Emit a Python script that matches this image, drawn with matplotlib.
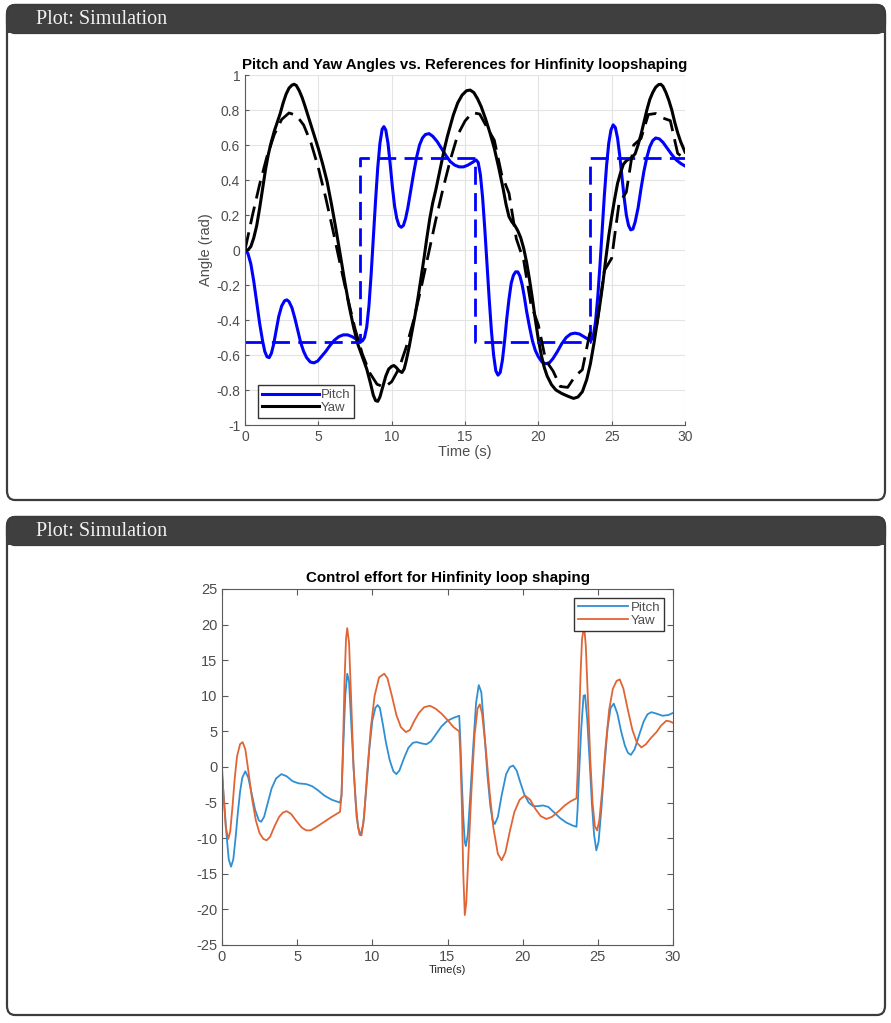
import matplotlib
matplotlib.use("Agg")
import matplotlib.pyplot as plt
from matplotlib.patches import FancyBboxPatch, Rectangle

plt.rcParams["axes.unicode_minus"] = False

# --- angle plot data ---
pitch_t = [0.0, 0.2, 0.4, 0.6, 0.8, 1.0, 1.2, 1.35, 1.5, 1.65, 1.8, 1.95, 2.1, 2.3, 2.5,
           2.7, 2.85, 3.0, 3.2, 3.4, 3.6, 3.8, 4.0, 4.2, 4.45, 4.7, 4.95, 5.2, 5.5, 5.8,
           6.1, 6.4, 6.7, 7.0, 7.3, 7.6, 7.85, 8.0, 8.15, 8.3, 8.45, 8.6, 8.75, 8.9, 9.05,
           9.2, 9.35, 9.47, 9.6, 9.75, 9.9, 10.05, 10.2, 10.35, 10.5, 10.65, 10.8, 10.95,
           11.1, 11.3, 11.5, 11.7, 11.9, 12.1, 12.3, 12.55, 12.8, 13.1, 13.4, 13.7, 14.0,
           14.3, 14.6, 14.9, 15.2, 15.5, 15.75, 15.9, 16.05, 16.2, 16.35, 16.5, 16.65, 16.8,
           16.95, 17.1, 17.25, 17.4, 17.55, 17.7, 17.85, 18.0, 18.15, 18.3, 18.45, 18.6,
           18.75, 18.9, 19.05, 19.2, 19.4, 19.6, 19.8, 20.0, 20.25, 20.5, 20.75, 21.0, 21.3,
           21.6, 21.9, 22.2, 22.5, 22.8, 23.1, 23.4, 23.6, 23.75, 23.9, 24.05, 24.2, 24.35,
           24.5, 24.65, 24.8, 24.95, 25.1, 25.25, 25.4, 25.55, 25.7, 25.85, 26.0, 26.15,
           26.3, 26.45, 26.6, 26.8, 27.0, 27.2, 27.4, 27.6, 27.8, 28.0, 28.25, 28.5, 28.8,
           29.1, 29.4, 29.7, 30.0]
pitch_v = [0.0, -0.02, -0.08, -0.18, -0.3, -0.42, -0.52, -0.58, -0.61, -0.615, -0.59,
           -0.54, -0.47, -0.38, -0.32, -0.29, -0.285, -0.295, -0.33, -0.39, -0.46, -0.53,
           -0.58, -0.615, -0.64, -0.645, -0.635, -0.61, -0.58, -0.545, -0.515, -0.495,
           -0.485, -0.485, -0.495, -0.51, -0.52, -0.52, -0.5, -0.44, -0.32, -0.14, 0.07,
           0.28, 0.47, 0.61, 0.69, 0.705, 0.685, 0.61, 0.49, 0.36, 0.25, 0.18, 0.14, 0.13,
           0.14, 0.18, 0.24, 0.34, 0.44, 0.53, 0.6, 0.64, 0.66, 0.665, 0.65, 0.62, 0.58,
           0.54, 0.505, 0.485, 0.475, 0.475, 0.485, 0.5, 0.515, 0.5, 0.43, 0.3, 0.12, -0.08,
           -0.28, -0.46, -0.6, -0.69, -0.715, -0.7, -0.63, -0.52, -0.39, -0.28, -0.19,
           -0.145, -0.125, -0.125, -0.15, -0.2, -0.27, -0.35, -0.44, -0.52, -0.575, -0.61,
           -0.64, -0.65, -0.645, -0.62, -0.58, -0.535, -0.5, -0.48, -0.475, -0.48, -0.495,
           -0.51, -0.515, -0.49, -0.41, -0.27, -0.09, 0.11, 0.31, 0.48, 0.61, 0.685, 0.715,
           0.7, 0.64, 0.54, 0.42, 0.3, 0.2, 0.14, 0.115, 0.12, 0.16, 0.24, 0.35, 0.45, 0.53,
           0.59, 0.625, 0.64, 0.635, 0.615, 0.58, 0.545, 0.515, 0.495, 0.48]

yaw_t = [0.0, 0.2, 0.4, 0.6, 0.8, 1.0, 1.2, 1.4, 1.6, 1.8, 2.0, 2.2, 2.4, 2.6, 2.8, 3.0,
         3.2, 3.35, 3.5, 3.7, 3.9, 4.1, 4.4, 4.7, 5.0, 5.3, 5.6, 5.9, 6.2, 6.5, 6.8, 7.1,
         7.4, 7.7, 8.0, 8.3, 8.55, 8.75, 8.9, 9.05, 9.2, 9.4, 9.6, 9.8, 10.0, 10.15, 10.3,
         10.5, 10.7, 10.85, 11.0, 11.2, 11.4, 11.6, 11.8, 12.0, 12.2, 12.4, 12.6, 12.8,
         13.0, 13.2, 13.4, 13.6, 13.8, 14.0, 14.2, 14.5, 14.8, 15.1, 15.35, 15.6, 15.85,
         16.1, 16.4, 16.7, 17.0, 17.3, 17.6, 17.8, 18.0, 18.2, 18.4, 18.6, 18.8, 19.0, 19.2,
         19.4, 19.6, 19.8, 20.0, 20.2, 20.4, 20.6, 20.9, 21.2, 21.6, 22.0, 22.4, 22.7, 23.0,
         23.3, 23.55, 23.8, 24.0, 24.2, 24.4, 24.6, 24.8, 25.0, 25.2, 25.4, 25.6, 25.8,
         26.0, 26.2, 26.4, 26.6, 26.8, 27.0, 27.2, 27.4, 27.6, 27.8, 28.0, 28.2, 28.35,
         28.5, 28.7, 28.9, 29.1, 29.3, 29.5, 29.7, 29.85, 30.0]
yaw_v = [0.0, 0.0, 0.02, 0.07, 0.14, 0.24, 0.35, 0.46, 0.55, 0.62, 0.68, 0.73, 0.78,
         0.84, 0.89, 0.925, 0.942, 0.947, 0.94, 0.91, 0.87, 0.82, 0.74, 0.66, 0.58, 0.49,
         0.39, 0.26, 0.12, -0.03, -0.18, -0.32, -0.44, -0.54, -0.61, -0.68, -0.76, -0.83,
         -0.86, -0.865, -0.84, -0.78, -0.72, -0.68, -0.665, -0.66, -0.67, -0.69, -0.7,
         -0.68, -0.63, -0.55, -0.46, -0.37, -0.27, -0.16, -0.05, 0.07, 0.18, 0.27, 0.34,
         0.42, 0.5, 0.58, 0.65, 0.71, 0.77, 0.84, 0.885, 0.91, 0.914, 0.9, 0.865, 0.82,
         0.75, 0.67, 0.58, 0.47, 0.35, 0.26, 0.19, 0.16, 0.14, 0.11, 0.07, 0.01, -0.07,
         -0.17, -0.28, -0.4, -0.51, -0.6, -0.67, -0.72, -0.77, -0.8, -0.82, -0.835, -0.848,
         -0.84, -0.81, -0.74, -0.65, -0.53, -0.42, -0.31, -0.19, -0.05, 0.08, 0.19, 0.29,
         0.38, 0.44, 0.49, 0.51, 0.52, 0.53, 0.55, 0.6, 0.66, 0.73, 0.8, 0.86, 0.9, 0.93,
         0.945, 0.947, 0.935, 0.9, 0.855, 0.8, 0.73, 0.67, 0.62, 0.59, 0.56]

ref_t = [0.0, 0.5, 1.0, 1.5, 2.0, 2.5, 3.0, 3.5, 4.0, 4.5, 5.0, 5.5, 6.0, 6.5, 7.0, 7.5,
         8.0, 8.5, 9.0, 9.5, 10.0, 10.5, 11.0, 11.5, 12.0, 12.5, 13.0, 13.5, 14.0, 14.5,
         15.0, 15.5, 16.0, 16.5, 17.0, 17.5, 18.0, 18.5, 19.0, 19.5, 20.0, 20.5, 21.0, 21.5,
         22.0, 22.5, 23.0, 23.5, 24.0, 24.5, 25.0, 25.5, 26.0, 26.5, 27.0, 27.5, 28.0, 28.5,
         29.0, 29.5, 30.0]
yaw_ref = [0.0, 0.195, 0.376, 0.535, 0.661, 0.746, 0.783, 0.77, 0.714, 0.612, 0.47, 0.3,
           0.111, -0.085, -0.275, -0.45, -0.594, -0.701, -0.767, -0.784, -0.753, -0.677,
           -0.553, -0.401, -0.219, -0.026, 0.169, 0.35, 0.515, 0.657, 0.737, 0.785, 0.777,
           0.7, 0.627, 0.431, 0.324, 0.064, -0.059, -0.313, -0.428, -0.63, -0.691, -0.78,
           -0.785, -0.722, -0.684, -0.478, -0.422, -0.118, -0.047, 0.266, 0.331, 0.6, 0.637,
           0.774, 0.78, 0.754, 0.739, 0.552, 0.52]

pref_t = [0.0, 7.85, 7.85, 15.7, 15.7, 23.55, 23.55, 30.0]
pref_v = [-0.524, -0.524, 0.524, 0.524, -0.524, -0.524, 0.524, 0.524]

# --- control effort data ---
up_t = [0.0, 0.15, 0.3, 0.45, 0.6, 0.75, 0.9, 1.05, 1.2, 1.35, 1.55, 1.75, 1.95, 2.2, 2.45,
        2.6, 2.8, 3.05, 3.3, 3.6, 3.95, 4.3, 4.7, 5.1, 5.6, 6.0, 6.4, 6.8, 7.3, 7.85, 7.95,
        8.05, 8.2, 8.33, 8.45, 8.6, 8.75, 8.9, 9.05, 9.22, 9.4, 9.6, 9.8, 10.0, 10.2, 10.35,
        10.5, 10.7, 10.9, 11.15, 11.4, 11.6, 11.8, 12.1, 12.4, 12.7, 12.95, 13.3, 13.6, 13.9,
        14.2, 14.6, 15.0, 15.4, 15.78, 15.85, 15.95, 16.05, 16.15, 16.22, 16.35, 16.5, 16.7,
        16.9, 17.08, 17.25, 17.45, 17.65, 17.85, 18.0, 18.15, 18.35, 18.6, 18.9, 19.15, 19.37,
        19.6, 19.85, 20.1, 20.4, 20.7, 21.0, 21.35, 21.7, 22.1, 22.5, 22.9, 23.3, 23.58, 23.65,
        23.75, 23.9, 24.05, 24.15, 24.3, 24.45, 24.6, 24.75, 24.9, 25.05, 25.25, 25.45, 25.65,
        25.85, 26.06, 26.3, 26.55, 26.8, 27.0, 27.2, 27.45, 27.75, 28.05, 28.3, 28.56, 28.9,
        29.3, 29.7, 30.0]
up_v = [-1.0, -5.0, -9.5, -13.0, -14.0, -13.0, -10.0, -6.5, -3.5, -1.5, -0.6, -1.5, -3.5,
        -6.0, -7.5, -7.7, -7.0, -5.0, -3.0, -1.6, -1.0, -1.3, -2.0, -2.3, -2.4, -2.7, -3.3,
        -4.0, -4.6, -5.0, -4.0, 2.0, 10.0, 13.1, 12.0, 6.0, 0.0, -5.0, -8.5, -9.6, -8.0, -3.0,
        2.5, 6.5, 8.3, 8.7, 8.3, 6.0, 3.5, 1.0, -0.6, -1.0, -0.5, 1.2, 2.7, 3.4, 3.5, 3.3, 3.2,
        3.6, 4.5, 5.7, 6.5, 6.9, 7.2, 4.0, -2.0, -7.0, -10.5, -11.1, -9.5, -4.5, 2.5, 9.0,
        11.5, 10.5, 5.0, -1.0, -5.5, -7.5, -8.0, -7.0, -4.0, -1.0, 0.0, 0.2, -0.5, -2.2, -3.8,
        -5.0, -5.5, -5.5, -5.4, -5.6, -6.4, -7.2, -7.8, -8.2, -8.4, -6.0, -1.0, 5.5, 10.0,
        10.1, 6.5, 1.0, -5.0, -9.5, -11.7, -10.5, -5.5, 0.5, 5.5, 8.3, 8.9, 7.5, 5.0, 3.0, 2.0,
        1.7, 2.5, 4.5, 6.4, 7.4, 7.7, 7.5, 7.2, 7.3, 7.6]

uy_t = [0.0, 0.1, 0.25, 0.42, 0.55, 0.7, 0.85, 1.0, 1.2, 1.37, 1.55, 1.75, 2.0, 2.25, 2.5,
        2.75, 2.97, 3.2, 3.5, 3.8, 4.05, 4.3, 4.6, 4.95, 5.3, 5.6, 5.9, 6.3, 6.8, 7.3, 7.85,
        7.95, 8.05, 8.15, 8.25, 8.33, 8.45, 8.6, 8.75, 8.95, 9.15, 9.28, 9.45, 9.65, 9.9,
        10.15, 10.45, 10.79, 11.0, 11.3, 11.6, 11.9, 12.23, 12.5, 12.8, 13.1, 13.45, 13.83,
        14.2, 14.6, 15.0, 15.4, 15.78, 15.85, 15.95, 16.05, 16.15, 16.25, 16.4, 16.6, 16.8,
        17.0, 17.15, 17.3, 17.55, 17.8, 18.05, 18.35, 18.6, 18.85, 19.15, 19.45, 19.8, 20.14,
        20.5, 20.85, 21.2, 21.58, 21.95, 22.4, 22.8, 23.2, 23.58, 23.65, 23.75, 23.85, 23.95,
        24.09, 24.2, 24.35, 24.5, 24.65, 24.8, 24.95, 25.1, 25.3, 25.5, 25.75, 26.0, 26.25,
        26.46, 26.7, 27.0, 27.3, 27.6, 27.9, 28.2, 28.5, 28.9, 29.2, 29.56, 29.8, 30.0]
uy_v = [0.0, -4.0, -8.5, -10.1, -9.0, -5.5, -1.5, 1.5, 3.2, 3.5, 2.5, -0.5, -4.5, -7.5,
        -9.3, -10.1, -10.3, -9.8, -8.3, -7.0, -6.4, -6.2, -6.6, -7.6, -8.5, -8.9, -8.9, -8.4,
        -7.7, -7.0, -6.3, -4.0, 3.0, 12.0, 18.0, 19.5, 17.5, 9.0, 0.0, -7.0, -9.5, -9.6, -7.0,
        -1.0, 5.5, 10.0, 12.6, 13.1, 12.5, 10.0, 7.3, 5.6, 4.9, 5.2, 6.5, 7.6, 8.4, 8.6, 8.2,
        7.5, 6.6, 5.6, 5.0, 2.0, -5.0, -15.0, -20.8, -19.0, -12.0, -3.0, 4.5, 8.2, 8.8, 7.5,
        2.5, -3.5, -8.5, -12.2, -13.1, -12.0, -9.0, -6.3, -4.6, -4.0, -4.6, -5.9, -6.9, -7.3,
        -7.0, -6.2, -5.4, -4.8, -4.4, -1.0, 6.0, 13.0, 18.0, 19.8, 17.0, 9.0, 1.0, -5.0, -8.3,
        -8.9, -7.5, -3.0, 2.5, 8.0, 11.0, 12.1, 12.3, 11.0, 8.0, 5.2, 3.4, 2.75, 3.2, 4.0, 4.9,
        5.8, 6.5, 6.4, 6.2]

W, H = 891, 1023
fig = plt.figure(figsize=(W / 100, H / 100), dpi=100)
fig.patch.set_facecolor("white")


def panel(top, bottom):
    # rounded card with a dark header strip
    x0, x1 = 7, 885
    card = FancyBboxPatch((x0 / W, 1 - bottom / H), (x1 - x0) / W, (bottom - top) / H,
                          boxstyle="round,pad=0,rounding_size=0.009",
                          transform=fig.transFigure, facecolor="white",
                          edgecolor="#3c3c3c", linewidth=1.6, zorder=-3)
    fig.patches.append(card)
    head = FancyBboxPatch((x0 / W, 1 - (top + 28) / H), (x1 - x0) / W, 28 / H,
                          boxstyle="round,pad=0,rounding_size=0.009",
                          transform=fig.transFigure, facecolor="#3f3f3f",
                          edgecolor="#3c3c3c", linewidth=1.6, zorder=-2)
    fig.patches.append(head)
    fig.patches.append(Rectangle((x0 / W, 1 - (top + 28) / H), (x1 - x0) / W, 12 / H,
                                 transform=fig.transFigure, facecolor="#3f3f3f",
                                 edgecolor="none", zorder=-2))
    fig.text(36 / W, 1 - (top + 15) / H, "Plot: Simulation", family="Liberation Serif",
             fontsize=14.5, color="#f2f2f2", va="center", ha="left", zorder=2)


panel(5, 500)
panel(517, 1015)

gray = "#4d4d4d"

# --- top axes: angles ---
ax1 = fig.add_axes([245 / W, 1 - 425 / H, 440 / W, 350 / H])
ax1.set_zorder(1)
ax1.plot(pitch_t, pitch_v, color="#0000ff", lw=2.2, label="Pitch")
ax1.plot(yaw_t, yaw_v, color="black", lw=2.2, label="Yaw")
ax1.plot(pref_t, pref_v, color="#0000ff", lw=2.0, ls=(0, (6.5, 3)))
ax1.plot(ref_t, yaw_ref, color="black", lw=2.0, ls=(0, (6.5, 3)))
ax1.set_xlim(0, 30)
ax1.set_ylim(-1, 1)
ax1.set_xticks(range(0, 31, 5))
ax1.set_yticks([-1, -0.8, -0.6, -0.4, -0.2, 0, 0.2, 0.4, 0.6, 0.8, 1])
ax1.set_yticklabels(["-1", "-0.8", "-0.6", "-0.4", "-0.2", "0", "0.2", "0.4", "0.6", "0.8", "1"])
ax1.grid(True, color="#e3e3e3", lw=0.8)
ax1.set_axisbelow(True)
for s in ["top", "right"]:
    ax1.spines[s].set_visible(False)
for s in ["left", "bottom"]:
    ax1.spines[s].set_color("#5a5a5a")
ax1.tick_params(direction="in", length=3, colors="#5a5a5a", labelsize=10,
                labelcolor=gray)
ax1.set_title("Pitch and Yaw Angles vs. References for Hinfinity loopshaping",
              family="Liberation Sans", fontsize=10.8, fontweight="bold", pad=4)
ax1.set_xlabel("Time (s)", family="Liberation Sans", fontsize=10.5, color=gray, labelpad=1)
ax1.set_ylabel("Angle (rad)", family="Liberation Sans", fontsize=10.5, color=gray, labelpad=2)
for lab in ax1.get_xticklabels() + ax1.get_yticklabels():
    lab.set_family("Liberation Sans")
leg1 = ax1.legend(loc="lower left", bbox_to_anchor=(0.03, 0.02), fontsize=9.5,
                  fancybox=False, edgecolor="#333333", framealpha=1, handlelength=4.3,
                  handletextpad=0.15, borderpad=0.3, labelspacing=0.05, borderaxespad=0)
leg1.get_frame().set_linewidth(1.0)
for t in leg1.get_texts():
    t.set_color(gray)
    t.set_family("Liberation Sans")

# --- bottom axes: control effort ---
ax2 = fig.add_axes([222 / W, 1 - 945 / H, 451 / W, 356 / H])
ax2.set_zorder(1)
ax2.plot(up_t, up_v, color="#2f8fd4", lw=1.3, label="Pitch")
ax2.plot(uy_t, uy_v, color="#e06535", lw=1.3, label="Yaw")
ax2.set_xlim(0, 30)
ax2.set_ylim(-25, 25)
ax2.set_xticks(range(0, 31, 5))
ax2.set_yticks(range(-25, 26, 5))
for s in ax2.spines.values():
    s.set_color("#5a5a5a")
ax2.tick_params(direction="in", length=4, colors="#5a5a5a", labelsize=10.5,
                labelcolor=gray, top=True, right=True)
for lab in ax2.get_xticklabels() + ax2.get_yticklabels():
    lab.set_family("Liberation Sans")
ax2.set_title("Control effort for Hinfinity loop shaping", family="Liberation Sans",
              fontsize=10.9, fontweight="bold", pad=5)
ax2.set_xlabel("Time(s)", family="Liberation Sans", fontsize=8, color="#222222", labelpad=1)
leg2 = ax2.legend(loc="upper right", bbox_to_anchor=(0.98, 0.975), fontsize=9.5,
                  fancybox=False, edgecolor="#333333", framealpha=1, handlelength=3.8,
                  handletextpad=0.15, borderpad=0.3, labelspacing=0.05, borderaxespad=0)
leg2.get_frame().set_linewidth(1.0)
for t in leg2.get_texts():
    t.set_color(gray)
    t.set_family("Liberation Sans")

fig.savefig("out.png", dpi=100)
